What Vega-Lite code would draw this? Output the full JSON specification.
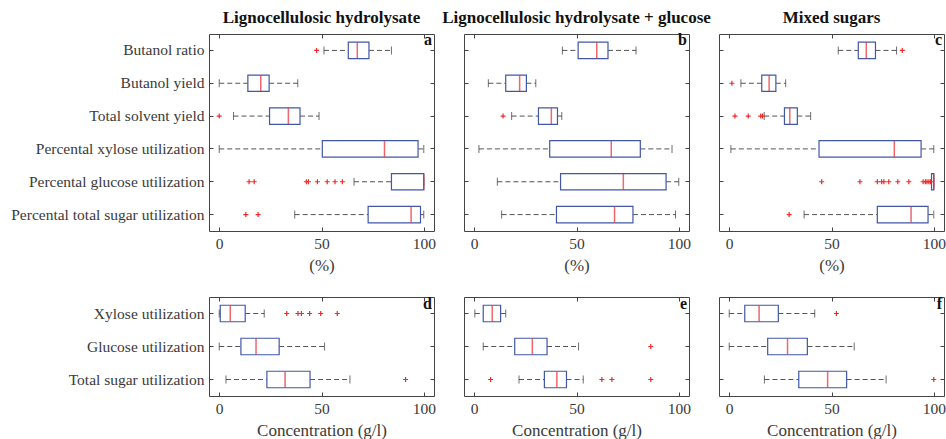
{
  "$schema": "https://vega.github.io/schema/vega-lite/v6.json",
  "padding": {"left": 10, "top": 8, "right": 1, "bottom": 0},
  "datasets": {
    "boxes": [
      {"panel": "a", "cat": "Butanol ratio", "lo": 51.2, "q1": 63.1, "med": 67.5, "q3": 73.2, "hi": 84.2},
      {"panel": "a", "cat": "Butanol yield", "lo": 0, "q1": 14.0, "med": 20.3, "q3": 24.4, "hi": 38.4},
      {"panel": "a", "cat": "Total solvent yield", "lo": 7.0, "q1": 24.6, "med": 33.8, "q3": 39.5, "hi": 48.8},
      {"panel": "a", "cat": "Percental xylose utilization", "lo": 0, "q1": 50.4, "med": 80.8, "q3": 97.2, "hi": 100},
      {"panel": "a", "cat": "Percental glucose utilization", "lo": 65.9, "q1": 84.2, "med": 100, "q3": 100, "hi": 100},
      {"panel": "a", "cat": "Percental total sugar utilization", "lo": 36.9, "q1": 72.8, "med": 93.8, "q3": 98.4, "hi": 100},
      {"panel": "b", "cat": "Butanol ratio", "lo": 43.1, "q1": 50.8, "med": 59.9, "q3": 65.4, "hi": 79.1},
      {"panel": "b", "cat": "Butanol yield", "lo": 6.9, "q1": 15.4, "med": 22.2, "q3": 25.5, "hi": 30.1},
      {"panel": "b", "cat": "Total solvent yield", "lo": 18.3, "q1": 31.4, "med": 37.7, "q3": 40.7, "hi": 42.8},
      {"panel": "b", "cat": "Percental xylose utilization", "lo": 2.3, "q1": 36.9, "med": 67.0, "q3": 81.2, "hi": 96.7},
      {"panel": "b", "cat": "Percental glucose utilization", "lo": 11.3, "q1": 42.2, "med": 72.9, "q3": 93.8, "hi": 100},
      {"panel": "b", "cat": "Percental total sugar utilization", "lo": 13.4, "q1": 40.2, "med": 68.6, "q3": 77.6, "hi": 98.4},
      {"panel": "c", "cat": "Butanol ratio", "lo": 53.3, "q1": 63.1, "med": 67.0, "q3": 71.5, "hi": 81.8},
      {"panel": "c", "cat": "Butanol yield", "lo": 5.7, "q1": 15.9, "med": 19.5, "q3": 22.8, "hi": 27.6},
      {"panel": "c", "cat": "Total solvent yield", "lo": 17.1, "q1": 27.0, "med": 29.6, "q3": 33.3, "hi": 39.8},
      {"panel": "c", "cat": "Percental xylose utilization", "lo": 0.8, "q1": 43.9, "med": 80.7, "q3": 93.8, "hi": 100},
      {"panel": "c", "cat": "Percental glucose utilization", "lo": 98.9, "q1": 98.9, "med": 100, "q3": 100, "hi": 100},
      {"panel": "c", "cat": "Percental total sugar utilization", "lo": 36.6, "q1": 72.4, "med": 88.9, "q3": 97.2, "hi": 100},
      {"panel": "d", "cat": "Xylose utilization", "lo": 0, "q1": 0.5, "med": 5.4, "q3": 12.7, "hi": 22.0},
      {"panel": "d", "cat": "Glucose utilization", "lo": 0, "q1": 10.6, "med": 18.0, "q3": 29.3, "hi": 51.5},
      {"panel": "d", "cat": "Total sugar utilization", "lo": 3.3, "q1": 23.3, "med": 32.2, "q3": 44.4, "hi": 63.9},
      {"panel": "e", "cat": "Xylose utilization", "lo": 0.3, "q1": 4.4, "med": 8.8, "q3": 12.9, "hi": 15.4},
      {"panel": "e", "cat": "Glucose utilization", "lo": 4.4, "q1": 19.8, "med": 28.4, "q3": 35.6, "hi": 51.0},
      {"panel": "e", "cat": "Total sugar utilization", "lo": 21.9, "q1": 34.3, "med": 40.4, "q3": 45.1, "hi": 53.3},
      {"panel": "f", "cat": "Xylose utilization", "lo": 0, "q1": 7.6, "med": 14.6, "q3": 24.0, "hi": 41.8},
      {"panel": "f", "cat": "Glucose utilization", "lo": 0, "q1": 18.8, "med": 28.5, "q3": 38.2, "hi": 61.1},
      {"panel": "f", "cat": "Total sugar utilization", "lo": 17.2, "q1": 34.0, "med": 48.1, "q3": 57.4, "hi": 76.7}
    ],
    "outliers": [
      {"panel": "a", "cat": "Butanol ratio", "v": 47.6},
      {"panel": "a", "cat": "Total solvent yield", "v": 0},
      {"panel": "a", "cat": "Percental glucose utilization", "v": 14.6},
      {"panel": "a", "cat": "Percental glucose utilization", "v": 17.1},
      {"panel": "a", "cat": "Percental glucose utilization", "v": 42.6},
      {"panel": "a", "cat": "Percental glucose utilization", "v": 43.6},
      {"panel": "a", "cat": "Percental glucose utilization", "v": 48.0},
      {"panel": "a", "cat": "Percental glucose utilization", "v": 52.8},
      {"panel": "a", "cat": "Percental glucose utilization", "v": 56.6},
      {"panel": "a", "cat": "Percental glucose utilization", "v": 60.2},
      {"panel": "a", "cat": "Percental total sugar utilization", "v": 13.0},
      {"panel": "a", "cat": "Percental total sugar utilization", "v": 19.0},
      {"panel": "b", "cat": "Total solvent yield", "v": 14.1},
      {"panel": "c", "cat": "Butanol ratio", "v": 84.6},
      {"panel": "c", "cat": "Butanol yield", "v": 1.3},
      {"panel": "c", "cat": "Total solvent yield", "v": 2.8},
      {"panel": "c", "cat": "Total solvent yield", "v": 9.3},
      {"panel": "c", "cat": "Total solvent yield", "v": 15.4},
      {"panel": "c", "cat": "Total solvent yield", "v": 16.3},
      {"panel": "c", "cat": "Percental glucose utilization", "v": 45.2},
      {"panel": "c", "cat": "Percental glucose utilization", "v": 63.9},
      {"panel": "c", "cat": "Percental glucose utilization", "v": 72.4},
      {"panel": "c", "cat": "Percental glucose utilization", "v": 74.5},
      {"panel": "c", "cat": "Percental glucose utilization", "v": 75.6},
      {"panel": "c", "cat": "Percental glucose utilization", "v": 78.0},
      {"panel": "c", "cat": "Percental glucose utilization", "v": 82.4},
      {"panel": "c", "cat": "Percental glucose utilization", "v": 87.8},
      {"panel": "c", "cat": "Percental glucose utilization", "v": 94.8},
      {"panel": "c", "cat": "Percental glucose utilization", "v": 95.9},
      {"panel": "c", "cat": "Percental glucose utilization", "v": 96.7},
      {"panel": "c", "cat": "Percental glucose utilization", "v": 97.6},
      {"panel": "c", "cat": "Percental glucose utilization", "v": 98.4},
      {"panel": "c", "cat": "Percental total sugar utilization", "v": 29.3},
      {"panel": "d", "cat": "Xylose utilization", "v": 33.0},
      {"panel": "d", "cat": "Xylose utilization", "v": 38.5},
      {"panel": "d", "cat": "Xylose utilization", "v": 40.2},
      {"panel": "d", "cat": "Xylose utilization", "v": 44.2},
      {"panel": "d", "cat": "Xylose utilization", "v": 49.6},
      {"panel": "d", "cat": "Xylose utilization", "v": 57.7},
      {"panel": "d", "cat": "Total sugar utilization", "v": 91.1},
      {"panel": "e", "cat": "Glucose utilization", "v": 86.3},
      {"panel": "e", "cat": "Total sugar utilization", "v": 8.0},
      {"panel": "e", "cat": "Total sugar utilization", "v": 62.4},
      {"panel": "e", "cat": "Total sugar utilization", "v": 67.3},
      {"panel": "e", "cat": "Total sugar utilization", "v": 86.3},
      {"panel": "f", "cat": "Xylose utilization", "v": 52.4},
      {"panel": "f", "cat": "Total sugar utilization", "v": 100}
    ]
  },
  "config": {
    "font": "Liberation Serif",
    "view": {"stroke": "#444444", "strokeWidth": 1},
    "axis": {
      "labelFont": "Liberation Serif", "labelFontSize": 15.5, "labelColor": "#3a3a3a", "labelLimit": 400,
      "titleFont": "Liberation Serif", "titleFontSize": 17, "titleFontWeight": "normal", "titleColor": "#3a3a3a", "titlePadding": 6,
      "tickColor": "#444444", "tickSize": -4, "domain": false, "grid": false, "labelPadding": 9, "labelFlush": false
    },
    "title": {"font": "Liberation Serif", "fontSize": 17, "fontWeight": "bold", "color": "#111111", "offset": 5}
  },
  "columns": 3,
  "bounds": "flush",
  "spacing": {"row": 66, "column": 30},
  "concat": [
    {
      "width": 225, "height": 197,
      "title": "Lignocellulosic hydrolysate",
      "resolve": {"axis": {"x": "independent", "y": "independent"}},
      "layer": [
        {"data": {"name": "boxes"}, "transform": [{"filter": "datum.panel === 'a'"}],
         "mark": {"type": "rule", "strokeDash": [5, 3], "color": "#555555"},
         "encoding": {
           "x": {"field": "lo", "type": "quantitative", "scale": {"domain": [-5, 105], "nice": false, "zero": false}, "axis": {"values": [0, 50, 100], "title": "(%)"}},
           "x2": {"field": "q1"},
           "y": {"field": "cat", "type": "nominal", "scale": {"domain": ["Butanol ratio", "Butanol yield", "Total solvent yield", "Percental xylose utilization", "Percental glucose utilization", "Percental total sugar utilization"], "paddingInner": 0, "paddingOuter": 0}, "axis": {"title": null}}}},
        {"data": {"name": "boxes"}, "transform": [{"filter": "datum.panel === 'a'"}],
         "mark": {"type": "rule", "strokeDash": [5, 3], "color": "#555555"},
         "encoding": {"x": {"field": "q3", "type": "quantitative", "axis": null}, "x2": {"field": "hi"}, "y": {"field": "cat", "type": "nominal", "axis": null}}},
        {"data": {"name": "boxes"}, "transform": [{"filter": "datum.panel === 'a'"}, {"fold": ["lo", "hi"], "as": ["end", "val"]}],
         "mark": {"type": "tick", "size": 8, "thickness": 1, "color": "#333333"},
         "encoding": {"x": {"field": "val", "type": "quantitative", "axis": null}, "y": {"field": "cat", "type": "nominal", "axis": null}}},
        {"data": {"name": "boxes"}, "transform": [{"filter": "datum.panel === 'a'"}],
         "mark": {"type": "bar", "height": {"band": 0.5}, "fill": "white", "stroke": "#4257a8", "strokeWidth": 1.2},
         "encoding": {"x": {"field": "q1", "type": "quantitative", "axis": {"orient": "top", "labels": false, "values": [0, 50, 100], "title": null}}, "x2": {"field": "q3"}, "y": {"field": "cat", "type": "nominal", "axis": {"orient": "right", "labels": false, "title": null}}}},
        {"data": {"name": "boxes"}, "transform": [{"filter": "datum.panel === 'a'"}],
         "mark": {"type": "tick", "size": 16, "thickness": 1.5, "color": "#e8262b"},
         "encoding": {"x": {"field": "med", "type": "quantitative", "axis": null}, "y": {"field": "cat", "type": "nominal", "axis": null}}},
        {"data": {"name": "outliers"}, "transform": [{"filter": "datum.panel === 'a'"}],
         "mark": {"type": "point", "shape": "M-1,0L1,0M0,-1L0,1", "size": 25, "filled": false, "stroke": "#f02a2a", "strokeWidth": 1.2, "opacity": 1},
         "encoding": {"x": {"field": "v", "type": "quantitative", "axis": null}, "y": {"field": "cat", "type": "nominal", "axis": null}}},
        {"data": {"values": [{"letter": "a"}]},
         "mark": {"type": "text", "font": "Liberation Serif", "fontWeight": "bold", "fontSize": 16, "align": "right", "baseline": "middle", "dx": -2, "dy": -10, "color": "#111111"},
         "encoding": {"x": {"datum": 105, "type": "quantitative", "axis": null}, "y": {"datum": "Butanol ratio", "type": "nominal", "axis": null}, "text": {"field": "letter"}}}
      ]
    },
    {
      "width": 225, "height": 197,
      "title": "Lignocellulosic hydrolysate + glucose",
      "resolve": {"axis": {"x": "independent", "y": "independent"}},
      "layer": [
        {"data": {"name": "boxes"}, "transform": [{"filter": "datum.panel === 'b'"}],
         "mark": {"type": "rule", "strokeDash": [5, 3], "color": "#555555"},
         "encoding": {
           "x": {"field": "lo", "type": "quantitative", "scale": {"domain": [-5, 105], "nice": false, "zero": false}, "axis": {"values": [0, 50, 100], "title": "(%)"}},
           "x2": {"field": "q1"},
           "y": {"field": "cat", "type": "nominal", "scale": {"domain": ["Butanol ratio", "Butanol yield", "Total solvent yield", "Percental xylose utilization", "Percental glucose utilization", "Percental total sugar utilization"], "paddingInner": 0, "paddingOuter": 0}, "axis": {"title": null, "labels": false}}}},
        {"data": {"name": "boxes"}, "transform": [{"filter": "datum.panel === 'b'"}],
         "mark": {"type": "rule", "strokeDash": [5, 3], "color": "#555555"},
         "encoding": {"x": {"field": "q3", "type": "quantitative", "axis": null}, "x2": {"field": "hi"}, "y": {"field": "cat", "type": "nominal", "axis": null}}},
        {"data": {"name": "boxes"}, "transform": [{"filter": "datum.panel === 'b'"}, {"fold": ["lo", "hi"], "as": ["end", "val"]}],
         "mark": {"type": "tick", "size": 8, "thickness": 1, "color": "#333333"},
         "encoding": {"x": {"field": "val", "type": "quantitative", "axis": null}, "y": {"field": "cat", "type": "nominal", "axis": null}}},
        {"data": {"name": "boxes"}, "transform": [{"filter": "datum.panel === 'b'"}],
         "mark": {"type": "bar", "height": {"band": 0.5}, "fill": "white", "stroke": "#4257a8", "strokeWidth": 1.2},
         "encoding": {"x": {"field": "q1", "type": "quantitative", "axis": {"orient": "top", "labels": false, "values": [0, 50, 100], "title": null}}, "x2": {"field": "q3"}, "y": {"field": "cat", "type": "nominal", "axis": {"orient": "right", "labels": false, "title": null}}}},
        {"data": {"name": "boxes"}, "transform": [{"filter": "datum.panel === 'b'"}],
         "mark": {"type": "tick", "size": 16, "thickness": 1.5, "color": "#e8262b"},
         "encoding": {"x": {"field": "med", "type": "quantitative", "axis": null}, "y": {"field": "cat", "type": "nominal", "axis": null}}},
        {"data": {"name": "outliers"}, "transform": [{"filter": "datum.panel === 'b'"}],
         "mark": {"type": "point", "shape": "M-1,0L1,0M0,-1L0,1", "size": 25, "filled": false, "stroke": "#f02a2a", "strokeWidth": 1.2, "opacity": 1},
         "encoding": {"x": {"field": "v", "type": "quantitative", "axis": null}, "y": {"field": "cat", "type": "nominal", "axis": null}}},
        {"data": {"values": [{"letter": "b"}]},
         "mark": {"type": "text", "font": "Liberation Serif", "fontWeight": "bold", "fontSize": 16, "align": "right", "baseline": "middle", "dx": -2, "dy": -10, "color": "#111111"},
         "encoding": {"x": {"datum": 105, "type": "quantitative", "axis": null}, "y": {"datum": "Butanol ratio", "type": "nominal", "axis": null}, "text": {"field": "letter"}}}
      ]
    },
    {
      "width": 225, "height": 197,
      "title": "Mixed sugars",
      "resolve": {"axis": {"x": "independent", "y": "independent"}},
      "layer": [
        {"data": {"name": "boxes"}, "transform": [{"filter": "datum.panel === 'c'"}],
         "mark": {"type": "rule", "strokeDash": [5, 3], "color": "#555555"},
         "encoding": {
           "x": {"field": "lo", "type": "quantitative", "scale": {"domain": [-5, 105], "nice": false, "zero": false}, "axis": {"values": [0, 50, 100], "title": "(%)"}},
           "x2": {"field": "q1"},
           "y": {"field": "cat", "type": "nominal", "scale": {"domain": ["Butanol ratio", "Butanol yield", "Total solvent yield", "Percental xylose utilization", "Percental glucose utilization", "Percental total sugar utilization"], "paddingInner": 0, "paddingOuter": 0}, "axis": {"title": null, "labels": false}}}},
        {"data": {"name": "boxes"}, "transform": [{"filter": "datum.panel === 'c'"}],
         "mark": {"type": "rule", "strokeDash": [5, 3], "color": "#555555"},
         "encoding": {"x": {"field": "q3", "type": "quantitative", "axis": null}, "x2": {"field": "hi"}, "y": {"field": "cat", "type": "nominal", "axis": null}}},
        {"data": {"name": "boxes"}, "transform": [{"filter": "datum.panel === 'c'"}, {"fold": ["lo", "hi"], "as": ["end", "val"]}],
         "mark": {"type": "tick", "size": 8, "thickness": 1, "color": "#333333"},
         "encoding": {"x": {"field": "val", "type": "quantitative", "axis": null}, "y": {"field": "cat", "type": "nominal", "axis": null}}},
        {"data": {"name": "boxes"}, "transform": [{"filter": "datum.panel === 'c'"}],
         "mark": {"type": "bar", "height": {"band": 0.5}, "fill": "white", "stroke": "#4257a8", "strokeWidth": 1.2},
         "encoding": {"x": {"field": "q1", "type": "quantitative", "axis": {"orient": "top", "labels": false, "values": [0, 50, 100], "title": null}}, "x2": {"field": "q3"}, "y": {"field": "cat", "type": "nominal", "axis": {"orient": "right", "labels": false, "title": null}}}},
        {"data": {"name": "boxes"}, "transform": [{"filter": "datum.panel === 'c'"}],
         "mark": {"type": "tick", "size": 16, "thickness": 1.5, "color": "#e8262b"},
         "encoding": {"x": {"field": "med", "type": "quantitative", "axis": null}, "y": {"field": "cat", "type": "nominal", "axis": null}}},
        {"data": {"name": "outliers"}, "transform": [{"filter": "datum.panel === 'c'"}],
         "mark": {"type": "point", "shape": "M-1,0L1,0M0,-1L0,1", "size": 25, "filled": false, "stroke": "#f02a2a", "strokeWidth": 1.2, "opacity": 1},
         "encoding": {"x": {"field": "v", "type": "quantitative", "axis": null}, "y": {"field": "cat", "type": "nominal", "axis": null}}},
        {"data": {"values": [{"letter": "c"}]},
         "mark": {"type": "text", "font": "Liberation Serif", "fontWeight": "bold", "fontSize": 16, "align": "right", "baseline": "middle", "dx": -2, "dy": -10, "color": "#111111"},
         "encoding": {"x": {"datum": 105, "type": "quantitative", "axis": null}, "y": {"datum": "Butanol ratio", "type": "nominal", "axis": null}, "text": {"field": "letter"}}}
      ]
    },
    {
      "width": 225, "height": 99,
      "resolve": {"axis": {"x": "independent", "y": "independent"}},
      "layer": [
        {"data": {"name": "boxes"}, "transform": [{"filter": "datum.panel === 'd'"}],
         "mark": {"type": "rule", "strokeDash": [5, 3], "color": "#555555"},
         "encoding": {
           "x": {"field": "lo", "type": "quantitative", "scale": {"domain": [-5, 105], "nice": false, "zero": false}, "axis": {"values": [0, 50, 100], "title": "Concentration (g/l)"}},
           "x2": {"field": "q1"},
           "y": {"field": "cat", "type": "nominal", "scale": {"domain": ["Xylose utilization", "Glucose utilization", "Total sugar utilization"], "paddingInner": 0, "paddingOuter": 0}, "axis": {"title": null}}}},
        {"data": {"name": "boxes"}, "transform": [{"filter": "datum.panel === 'd'"}],
         "mark": {"type": "rule", "strokeDash": [5, 3], "color": "#555555"},
         "encoding": {"x": {"field": "q3", "type": "quantitative", "axis": null}, "x2": {"field": "hi"}, "y": {"field": "cat", "type": "nominal", "axis": null}}},
        {"data": {"name": "boxes"}, "transform": [{"filter": "datum.panel === 'd'"}, {"fold": ["lo", "hi"], "as": ["end", "val"]}],
         "mark": {"type": "tick", "size": 8, "thickness": 1, "color": "#333333"},
         "encoding": {"x": {"field": "val", "type": "quantitative", "axis": null}, "y": {"field": "cat", "type": "nominal", "axis": null}}},
        {"data": {"name": "boxes"}, "transform": [{"filter": "datum.panel === 'd'"}],
         "mark": {"type": "bar", "height": {"band": 0.5}, "fill": "white", "stroke": "#4257a8", "strokeWidth": 1.2},
         "encoding": {"x": {"field": "q1", "type": "quantitative", "axis": {"orient": "top", "labels": false, "values": [0, 50, 100], "title": null}}, "x2": {"field": "q3"}, "y": {"field": "cat", "type": "nominal", "axis": {"orient": "right", "labels": false, "title": null}}}},
        {"data": {"name": "boxes"}, "transform": [{"filter": "datum.panel === 'd'"}],
         "mark": {"type": "tick", "size": 16, "thickness": 1.5, "color": "#e8262b"},
         "encoding": {"x": {"field": "med", "type": "quantitative", "axis": null}, "y": {"field": "cat", "type": "nominal", "axis": null}}},
        {"data": {"name": "outliers"}, "transform": [{"filter": "datum.panel === 'd'"}],
         "mark": {"type": "point", "shape": "M-1,0L1,0M0,-1L0,1", "size": 25, "filled": false, "stroke": "#f02a2a", "strokeWidth": 1.2, "opacity": 1},
         "encoding": {"x": {"field": "v", "type": "quantitative", "axis": null}, "y": {"field": "cat", "type": "nominal", "axis": null}}},
        {"data": {"values": [{"letter": "d"}]},
         "mark": {"type": "text", "font": "Liberation Serif", "fontWeight": "bold", "fontSize": 16, "align": "right", "baseline": "middle", "dx": -2, "dy": -10, "color": "#111111"},
         "encoding": {"x": {"datum": 105, "type": "quantitative", "axis": null}, "y": {"datum": "Xylose utilization", "type": "nominal", "axis": null}, "text": {"field": "letter"}}}
      ]
    },
    {
      "width": 225, "height": 99,
      "resolve": {"axis": {"x": "independent", "y": "independent"}},
      "layer": [
        {"data": {"name": "boxes"}, "transform": [{"filter": "datum.panel === 'e'"}],
         "mark": {"type": "rule", "strokeDash": [5, 3], "color": "#555555"},
         "encoding": {
           "x": {"field": "lo", "type": "quantitative", "scale": {"domain": [-5, 105], "nice": false, "zero": false}, "axis": {"values": [0, 50, 100], "title": "Concentration (g/l)"}},
           "x2": {"field": "q1"},
           "y": {"field": "cat", "type": "nominal", "scale": {"domain": ["Xylose utilization", "Glucose utilization", "Total sugar utilization"], "paddingInner": 0, "paddingOuter": 0}, "axis": {"title": null, "labels": false}}}},
        {"data": {"name": "boxes"}, "transform": [{"filter": "datum.panel === 'e'"}],
         "mark": {"type": "rule", "strokeDash": [5, 3], "color": "#555555"},
         "encoding": {"x": {"field": "q3", "type": "quantitative", "axis": null}, "x2": {"field": "hi"}, "y": {"field": "cat", "type": "nominal", "axis": null}}},
        {"data": {"name": "boxes"}, "transform": [{"filter": "datum.panel === 'e'"}, {"fold": ["lo", "hi"], "as": ["end", "val"]}],
         "mark": {"type": "tick", "size": 8, "thickness": 1, "color": "#333333"},
         "encoding": {"x": {"field": "val", "type": "quantitative", "axis": null}, "y": {"field": "cat", "type": "nominal", "axis": null}}},
        {"data": {"name": "boxes"}, "transform": [{"filter": "datum.panel === 'e'"}],
         "mark": {"type": "bar", "height": {"band": 0.5}, "fill": "white", "stroke": "#4257a8", "strokeWidth": 1.2},
         "encoding": {"x": {"field": "q1", "type": "quantitative", "axis": {"orient": "top", "labels": false, "values": [0, 50, 100], "title": null}}, "x2": {"field": "q3"}, "y": {"field": "cat", "type": "nominal", "axis": {"orient": "right", "labels": false, "title": null}}}},
        {"data": {"name": "boxes"}, "transform": [{"filter": "datum.panel === 'e'"}],
         "mark": {"type": "tick", "size": 16, "thickness": 1.5, "color": "#e8262b"},
         "encoding": {"x": {"field": "med", "type": "quantitative", "axis": null}, "y": {"field": "cat", "type": "nominal", "axis": null}}},
        {"data": {"name": "outliers"}, "transform": [{"filter": "datum.panel === 'e'"}],
         "mark": {"type": "point", "shape": "M-1,0L1,0M0,-1L0,1", "size": 25, "filled": false, "stroke": "#f02a2a", "strokeWidth": 1.2, "opacity": 1},
         "encoding": {"x": {"field": "v", "type": "quantitative", "axis": null}, "y": {"field": "cat", "type": "nominal", "axis": null}}},
        {"data": {"values": [{"letter": "e"}]},
         "mark": {"type": "text", "font": "Liberation Serif", "fontWeight": "bold", "fontSize": 16, "align": "right", "baseline": "middle", "dx": -2, "dy": -10, "color": "#111111"},
         "encoding": {"x": {"datum": 105, "type": "quantitative", "axis": null}, "y": {"datum": "Xylose utilization", "type": "nominal", "axis": null}, "text": {"field": "letter"}}}
      ]
    },
    {
      "width": 225, "height": 99,
      "resolve": {"axis": {"x": "independent", "y": "independent"}},
      "layer": [
        {"data": {"name": "boxes"}, "transform": [{"filter": "datum.panel === 'f'"}],
         "mark": {"type": "rule", "strokeDash": [5, 3], "color": "#555555"},
         "encoding": {
           "x": {"field": "lo", "type": "quantitative", "scale": {"domain": [-5, 105], "nice": false, "zero": false}, "axis": {"values": [0, 50, 100], "title": "Concentration (g/l)"}},
           "x2": {"field": "q1"},
           "y": {"field": "cat", "type": "nominal", "scale": {"domain": ["Xylose utilization", "Glucose utilization", "Total sugar utilization"], "paddingInner": 0, "paddingOuter": 0}, "axis": {"title": null, "labels": false}}}},
        {"data": {"name": "boxes"}, "transform": [{"filter": "datum.panel === 'f'"}],
         "mark": {"type": "rule", "strokeDash": [5, 3], "color": "#555555"},
         "encoding": {"x": {"field": "q3", "type": "quantitative", "axis": null}, "x2": {"field": "hi"}, "y": {"field": "cat", "type": "nominal", "axis": null}}},
        {"data": {"name": "boxes"}, "transform": [{"filter": "datum.panel === 'f'"}, {"fold": ["lo", "hi"], "as": ["end", "val"]}],
         "mark": {"type": "tick", "size": 8, "thickness": 1, "color": "#333333"},
         "encoding": {"x": {"field": "val", "type": "quantitative", "axis": null}, "y": {"field": "cat", "type": "nominal", "axis": null}}},
        {"data": {"name": "boxes"}, "transform": [{"filter": "datum.panel === 'f'"}],
         "mark": {"type": "bar", "height": {"band": 0.5}, "fill": "white", "stroke": "#4257a8", "strokeWidth": 1.2},
         "encoding": {"x": {"field": "q1", "type": "quantitative", "axis": {"orient": "top", "labels": false, "values": [0, 50, 100], "title": null}}, "x2": {"field": "q3"}, "y": {"field": "cat", "type": "nominal", "axis": {"orient": "right", "labels": false, "title": null}}}},
        {"data": {"name": "boxes"}, "transform": [{"filter": "datum.panel === 'f'"}],
         "mark": {"type": "tick", "size": 16, "thickness": 1.5, "color": "#e8262b"},
         "encoding": {"x": {"field": "med", "type": "quantitative", "axis": null}, "y": {"field": "cat", "type": "nominal", "axis": null}}},
        {"data": {"name": "outliers"}, "transform": [{"filter": "datum.panel === 'f'"}],
         "mark": {"type": "point", "shape": "M-1,0L1,0M0,-1L0,1", "size": 25, "filled": false, "stroke": "#f02a2a", "strokeWidth": 1.2, "opacity": 1},
         "encoding": {"x": {"field": "v", "type": "quantitative", "axis": null}, "y": {"field": "cat", "type": "nominal", "axis": null}}},
        {"data": {"values": [{"letter": "f"}]},
         "mark": {"type": "text", "font": "Liberation Serif", "fontWeight": "bold", "fontSize": 16, "align": "right", "baseline": "middle", "dx": -2, "dy": -10, "color": "#111111"},
         "encoding": {"x": {"datum": 105, "type": "quantitative", "axis": null}, "y": {"datum": "Xylose utilization", "type": "nominal", "axis": null}, "text": {"field": "letter"}}}
      ]
    }
  ]
}
